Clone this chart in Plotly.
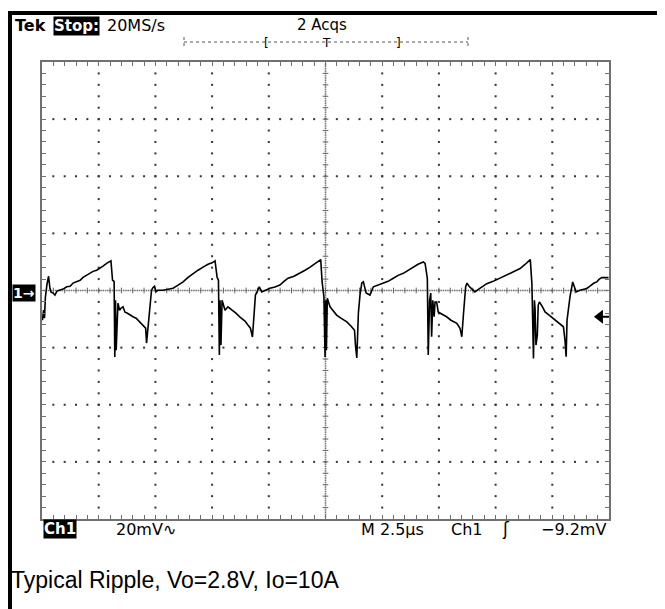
import plotly.graph_objects as go

# page is 665x609; the html body adds an 8px margin, so the figure is 8px smaller
PAGE_W, PAGE_H, OFF = 665, 609, 8
W, H = PAGE_W - OFF, PAGE_H - OFF

# ---- scope settings ----
time_per_div_us = 2.5
mv_per_div = 20
n_xdiv, n_ydiv = 10, 8
trigger_level_mv = -9.2

# ---- captured waveform ----
time_us = [0.02, 0.07, 0.11, 0.15, 0.22, 0.29, 0.35, 0.40, 0.49, 0.57, 0.66, 0.79, 0.93, 1.09, 1.24, 1.37,
           1.53, 1.68, 1.81, 1.97, 2.12, 2.25, 2.41, 2.56, 2.69, 2.85, 2.95, 3.04, 3.11, 3.18, 3.21, 3.24,
           3.27, 3.31, 3.35, 3.42, 3.48, 3.57, 3.66, 3.75, 3.88, 4.01, 4.15, 4.32, 4.45, 4.57, 4.61, 4.67,
           4.76, 4.83, 4.89, 4.96, 5.03, 5.12, 5.34, 5.56, 5.78, 6.00, 6.22, 6.44, 6.66, 6.88, 7.10, 7.32,
           7.50, 7.63, 7.72, 7.78, 7.82, 7.85, 7.89, 7.94, 8.07, 8.20, 8.38, 8.55, 8.73, 8.95, 9.08, 9.19,
           9.28, 9.35, 9.41, 9.48, 9.58, 9.69, 9.83, 10.05, 10.27, 10.49, 10.67, 10.85, 11.11, 11.38, 11.60,
           11.82, 11.99, 12.17, 12.29, 12.35, 12.43, 12.48, 12.51, 12.54, 12.58, 12.70, 12.83, 12.99, 13.18,
           13.44, 13.63, 13.78, 13.82, 13.88, 13.95, 14.02, 14.10, 14.17, 14.29, 14.46, 14.61, 14.82, 15.05,
           15.26, 15.49, 15.70, 15.93, 16.14, 16.37, 16.58, 16.81, 16.89, 16.99, 17.03, 17.09, 17.14, 17.18,
           17.23, 17.29, 17.33, 17.40, 17.47, 17.64, 17.84, 18.03, 18.29, 18.43, 18.51, 18.58, 18.68, 18.74,
           18.83, 18.96, 19.09, 19.32, 19.61, 19.89, 20.20, 20.42, 20.64, 20.86, 21.08, 21.31, 21.53, 21.60,
           21.67, 21.71, 21.74, 21.78, 21.84, 21.88, 21.93, 22.05, 22.18, 22.36, 22.55, 22.75, 22.99, 23.06,
           23.11, 23.15, 23.18, 23.28, 23.40, 23.46, 23.55, 23.72, 24.02, 24.16, 24.34, 24.46, 24.56, 24.68,
           24.82, 24.98]
ripple_mv = [-10.4, -6.9, -9.7, -2.3, 2.2, 5.0, 0.8, -0.6, -0.9, -1.6, -0.2, 0.1, 0.5, 1.3, 1.5, 2.6,
             3.0, 3.6, 4.6, 5.3, 5.9, 6.7, 7.1, 7.8, 8.5, 9.5, 9.9, 10.4, 3.6, 3.2, -23.3, -3.4,
             -20.9, -9.7, -4.4, -6.9, -6.2, -5.7, -7.6, -7.9, -8.6, -9.2, -9.7, -11.0, -12.1, -13.2, -18.4, -13.9,
             -5.1, 0.1, 1.0, 1.5, -0.4, 0.1, 0.1, 0.5, 0.8, 1.9, 3.0, 4.6, 6.0, 7.1, 8.2, 9.2,
             9.7, 10.4, 4.6, 3.6, -22.6, -3.4, -19.1, -3.4, -6.9, -5.7, -6.9, -7.9, -9.3, -10.7, -12.1, -13.2,
             -16.3, -7.9, -1.6, -0.5, 1.3, -0.5, 0.1, 0.8, 1.2, 1.9, 3.2, 4.3, 5.0, 6.0, 7.1,
             8.2, 9.2, 10.0, 10.8, 3.0, -2.2, -23.3, -3.4, -20.9, -2.7, -5.7, -7.2, -8.6, -9.7,
             -11.0, -12.5, -13.9, -19.1, -23.6, -7.9, -1.6, 2.6, 3.0, -0.9, -1.6, 1.3, 1.9, 2.6,
             3.2, 4.3, 5.3, 6.0, 7.1, 8.2, 9.2, 10.0, 9.5, 4.3, -22.6, -3.4, -0.9, -16.2,
             -3.4, -9.2, -4.0, -4.0, -7.5, -8.3, -9.2, -10.4, -11.5, -13.2, -16.2, -8.6, 1.3, 2.6,
             1.5, 0.5, -0.5, 0.8, 2.4, 3.2, 4.3, 5.2, 5.9, 6.9, 7.7, 9.2, 10.8, 2.4,
             -23.8, -3.4, -6.2, -19.1, -15.6, -5.1, -4.0, -5.5, -7.5, -8.6, -9.8, -11.1, -12.7, -17.4,
             -23.2, -10.4, -7.9, -2.2, 3.0, 1.5, -0.5, 0.1, 0.7, 1.5, 2.6, 3.0, 3.9, 4.5,
             4.5, 4.5]

# ---- screen texts ----
top_brand = "Tek"
top_state = "Stop:"
top_rate = "20MS/s"
top_acqs = "2 Acqs"
bottom_channel = "Ch1"
bottom_scale = "20mV∿"
bottom_time = "M 2.5µs"
bottom_trig_src = "Ch1"
bottom_trig_slope = "ʃ"
bottom_trig_level = "−9.2mV"
caption = "Typical Ripple, Vo=2.8V, Io=10A"

x_max = time_per_div_us * n_xdiv
y_half = mv_per_div * n_ydiv / 2

# plot-area placement (page pixels)
L, R, T, B = 42, 609, 62, 519


def px(x):
    return (x - OFF) / W


def py(y):
    return 1 - (y - OFF) / H


fig = go.Figure()

minor_x = time_per_div_us / 5
minor_y = mv_per_div / 5

# dotted graticule
gx, gy = [], []
for k in range(1, n_xdiv):
    if k == n_xdiv // 2:
        continue
    for j in range(1, n_ydiv * 5):
        gx.append(k * time_per_div_us)
        gy.append(-y_half + j * minor_y)
for k in range(1, n_ydiv):
    if k == n_ydiv // 2:
        continue
    for j in range(1, n_xdiv * 5):
        gx.append(j * minor_x)
        gy.append(-y_half + k * mv_per_div)
fig.add_trace(go.Scatter(x=gx, y=gy, mode="markers",
                         marker=dict(symbol="square", size=2, color="#333333", line_width=0),
                         hoverinfo="skip", showlegend=False))

# center cross: dense dots
cx, cy = [], []
xc = x_max / 2
for j in range(1, n_ydiv * 25):
    cx.append(xc)
    cy.append(-y_half + j * mv_per_div / 25)
for j in range(1, n_xdiv * 25):
    cx.append(j * time_per_div_us / 25)
    cy.append(0)
fig.add_trace(go.Scatter(x=cx, y=cy, mode="markers",
                         marker=dict(symbol="square", size=1.6, color="#777777", line_width=0),
                         hoverinfo="skip", showlegend=False))

# center cross: minor tick marks
tx, ty = [], []
for j in range(1, n_ydiv * 5):
    yv = -y_half + j * minor_y
    tx += [xc - 0.05 * time_per_div_us, xc + 0.05 * time_per_div_us, None]
    ty += [yv, yv, None]
for j in range(1, n_xdiv * 5):
    xv = j * minor_x
    tx += [xv, xv, None]
    ty += [-0.05 * mv_per_div, 0.05 * mv_per_div, None]
fig.add_trace(go.Scatter(x=tx, y=ty, mode="lines", line=dict(color="#666666", width=1),
                         hoverinfo="skip", showlegend=False))

# waveform
fig.add_trace(go.Scatter(x=time_us, y=ripple_mv, mode="lines",
                         line=dict(color="black", width=1.6), hoverinfo="skip", showlegend=False))

# trigger level arrow at right edge
fig.add_trace(go.Scatter(x=[x_max - 0.4, x_max], y=[trigger_level_mv, trigger_level_mv], mode="lines",
                         line=dict(color="black", width=2), hoverinfo="skip", showlegend=False))
fig.add_trace(go.Scatter(x=[x_max - 0.4], y=[trigger_level_mv], mode="markers",
                         marker=dict(symbol="triangle-left", size=12, color="black", line_width=0),
                         hoverinfo="skip", showlegend=False))

axis_common = dict(showgrid=False, zeroline=False, showticklabels=False, showline=True,
                   linecolor="#707070", linewidth=2, mirror="ticks", ticks="inside",
                   ticklen=4, tickcolor="#707070", tickwidth=1)
fig.update_xaxes(range=[0, x_max], dtick=minor_x, tick0=0, domain=[px(L), px(R)], **axis_common)
fig.update_yaxes(range=[-y_half, y_half], dtick=minor_y, tick0=-y_half, domain=[py(B), py(T)], **axis_common)

shapes = [
    # outer frame: left bar and top bar
    dict(type="rect", xref="paper", yref="paper", x0=0, x1=px(12), y0=0, y1=py(11),
         fillcolor="black", line_width=0),
    dict(type="rect", xref="paper", yref="paper", x0=0, x1=1, y0=py(15), y1=py(11),
         fillcolor="black", line_width=0),
    # record window bracket
    dict(type="line", xref="paper", yref="paper", x0=px(184), x1=px(468), y0=py(42), y1=py(42),
         line=dict(color="#555555", width=1, dash="dot")),
    dict(type="line", xref="paper", yref="paper", x0=px(184), x1=px(184), y0=py(37), y1=py(47),
         line=dict(color="#555555", width=1, dash="dot")),
    dict(type="line", xref="paper", yref="paper", x0=px(468), x1=px(468), y0=py(37), y1=py(47),
         line=dict(color="#555555", width=1, dash="dot")),
]

scope_font = "DejaVu Sans, sans-serif"


def ann(text, x, y, size=16, color="black", bg=None, xanchor="left", family=scope_font):
    d = dict(text=text, x=px(x), y=py(y), xref="paper", yref="paper", showarrow=False,
             xanchor=xanchor, yanchor="middle", font=dict(family=family, size=size, color=color),
             borderpad=0)
    if bg:
        d["bgcolor"] = bg
    return d


annotations = [
    ann("<b>" + top_brand + "</b>", 14, 26, size=16),
    ann("<b>" + top_state + "</b>", 53, 26, size=15, color="white", bg="black"),
    ann(top_rate, 106, 26, size=16),
    ann(top_acqs, 322, 25, size=15, xanchor="center"),
    ann("[", 266, 43, size=12, xanchor="center"),
    ann("T", 326, 43, size=12, xanchor="center"),
    ann("]", 398, 43, size=12, xanchor="center"),
    ann("<b>1→</b>", 24, 293, size=14, color="white", bg="black", xanchor="center"),
    ann("<b>" + bottom_channel + "</b>", 43, 529, size=15, color="white", bg="black"),
    ann(bottom_scale, 115, 529, size=16),
    ann(bottom_time, 360, 529, size=16),
    ann(bottom_trig_src, 450, 529, size=16),
    ann(bottom_trig_slope, 506, 529, size=17, xanchor="center"),
    ann(bottom_trig_level, 607, 529, size=16, xanchor="right"),
    ann(caption, 10, 580, size=23, family="Liberation Sans, Arial, sans-serif"),
]

fig.update_layout(width=W, height=H, margin=dict(l=0, r=0, t=0, b=0),
                  paper_bgcolor="white", plot_bgcolor="white",
                  shapes=shapes, annotations=annotations, showlegend=False)

fig.write_html("out.html")
